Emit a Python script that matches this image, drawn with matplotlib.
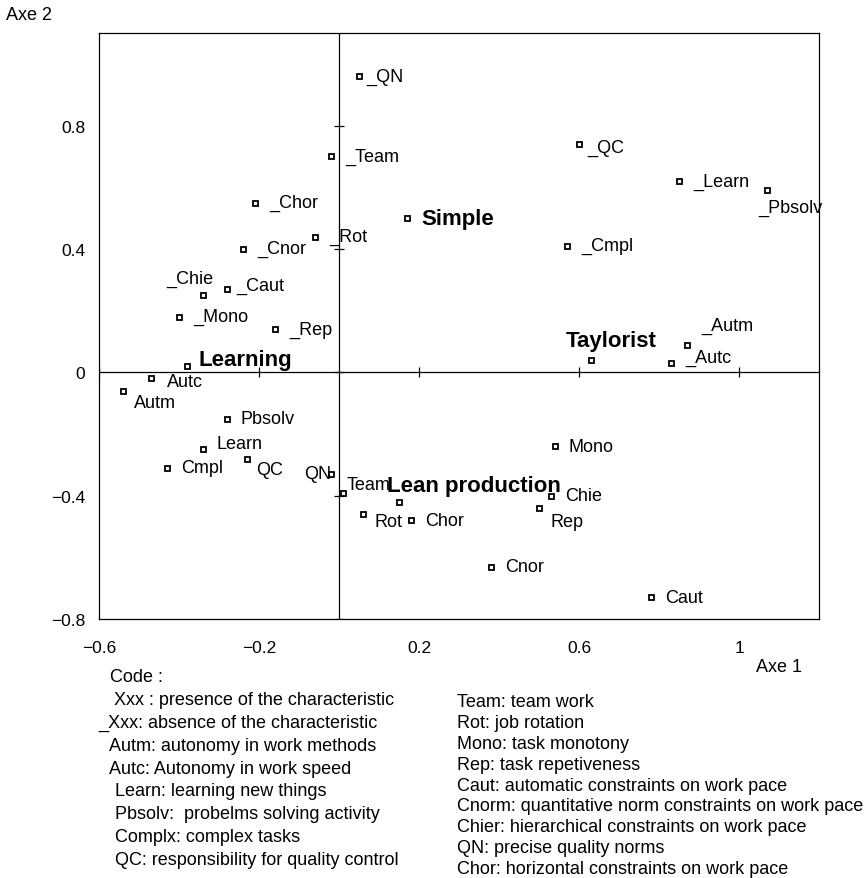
import numpy as np
import matplotlib
matplotlib.use("Agg")
import matplotlib.pyplot as plt

plt.rcParams['font.family'] = ['Liberation Sans', 'DejaVu Sans']

# coordonnées des modalités (axes 1 et 2)
labels = ["_QN", "_Team", "_Chor", "_Rot", "_Cnor", "_Chie", "_Caut", "_Mono", "_Rep",
          "_QC", "_Learn", "_Pbsolv", "_Cmpl", "_Autm", "_Autc",
          "Autc", "Autm", "Pbsolv", "Learn", "Cmpl", "QC", "QN", "Team", "Rot", "Chor",
          "Mono", "Chie", "Rep", "Cnor", "Caut"]
x_vals = [0.051, -0.02, -0.21, -0.06, -0.24, -0.34, -0.28, -0.40, -0.16,
          0.60, 0.85, 1.07, 0.57, 0.87, 0.83,
          -0.47, -0.54, -0.28, -0.34, -0.43, -0.23, -0.02, 0.01, 0.06, 0.18,
          0.54, 0.53, 0.50, 0.38, 0.78]
y_vals = [0.96, 0.70, 0.55, 0.44, 0.40, 0.25, 0.27, 0.18, 0.14,
          0.74, 0.62, 0.59, 0.41, 0.09, 0.03,
          -0.02, -0.06, -0.15, -0.25, -0.31, -0.28, -0.33, -0.39, -0.46, -0.48,
          -0.24, -0.40, -0.44, -0.63, -0.73]

# classes (en gras)
groups = ["Learning", "Simple", "Taylorist", "Lean production"]
gx = [-0.38, 0.17, 0.63, 0.15]
gy = [0.02, 0.50, 0.04, -0.42]

xticks = [-0.6, -0.2, 0.2, 0.6, 1]
xtick_labels = ["\u22120.6", "\u22120.2", "0.2", "0.6", "1"]
yticks = [-0.8, -0.4, 0, 0.4, 0.8]
ytick_labels = ["\u22120.8", "\u22120.4", "0", "0.4", "0.8"]

legend_left = ["Code :", " Xxx : presence of the characteristic", "_Xxx: absence of the characteristic",
               "Autm: autonomy in work methods", "Autc: Autonomy in work speed",
               "Learn: learning new things", "Pbsolv:  probelms solving activity",
               "Complx: complex tasks", "QC: responsibility for quality control"]
legend_right = ["Team: team work", "Rot: job rotation", "Mono: task monotony", "Rep: task repetiveness",
                "Caut: automatic constraints on work pace", "Cnorm: quantitative norm constraints on work pace",
                "Chier: hierarchical constraints on work pace", "QN: precise quality norms",
                "Chor: horizontal constraints on work pace"]

# décalages des étiquettes (pixels)
offsets = {"_QN": (7, 0), "_Chie": (-37, 17), "_Caut": (9, 4), "_QC": (8, -3),
           "_Pbsolv": (-9, -17), "_Autm": (14, 19), "_Autc": (14, 6),
           "Autc": (16, -3), "Autm": (11, -12), "Learn": (14, 6), "QC": (9, -11),
           "QN": (-27, 1), "Team": (4, 8), "Rot": (11, -7), "Rep": (12, -14)}
group_offsets = {"Learning": (12, 7), "Simple": (14, 0), "Taylorist": (-25, 19),
                 "Lean production": (-12, 16)}

W, H = 866, 879
fig = plt.figure(figsize=(W / 100, H / 100), dpi=100)
ax = fig.add_axes([99 / W, 1 - 620 / H, 720 / W, 586 / H])
ax.set_xlim(-0.6, 1.2)
ax.set_ylim(-0.8, 1.1)

ax.axhline(0, color='black', lw=0.9, zorder=1)
ax.axvline(0, color='black', lw=0.9, zorder=1)
# petites graduations sur les axes centraux
ax.plot(np.zeros(len(yticks)), yticks, marker='_', ms=7.5, mew=0.9, ls='none', color='black', zorder=1)
ax.plot(xticks, np.zeros(len(xticks)), marker='|', ms=7.5, mew=0.9, ls='none', color='black', zorder=1)

ax.plot(x_vals + gx, y_vals + gy, ls='none', marker='s', ms=3.6, mfc='white', mec='black', mew=1.3, zorder=3)

for lab, x, y in zip(labels, x_vals, y_vals):
    dx, dy = offsets.get(lab, (14, 0))
    t = ax.annotate(lab, (x, y), xytext=(dx, dy), textcoords='offset pixels',
                    ha='left', va='center', fontsize=13, zorder=4)
    t.set_clip_on(True)

for lab, x, y in zip(groups, gx, gy):
    dx, dy = group_offsets[lab]
    ax.annotate(lab, (x, y), xytext=(dx, dy), textcoords='offset pixels',
                ha='left', va='center', fontsize=16, fontweight='bold', zorder=5)

ax.set_xticks(xticks)
ax.set_xticklabels(xtick_labels)
ax.set_yticks(yticks)
ax.set_yticklabels(ytick_labels)
ax.tick_params(axis='x', length=0, pad=15, labelsize=12.5)
ax.tick_params(axis='y', length=0, pad=10, labelsize=12.5)
for sp in ax.spines.values():
    sp.set_linewidth(0.9)

fig.text(6 / W, 1 - 15 / H, "Axe 2", fontsize=13, ha='left', va='center')
fig.text(756 / W, 1 - 668 / H, "Axe 1", fontsize=13, ha='left', va='center')

for i, line in enumerate(legend_left):
    xl = 110 if i == 0 else (98 if line.startswith("_") else (109 if i < 5 else 115))
    fig.text(xl / W, 1 - (678 + 22.8 * i) / H, line, fontsize=13, ha='left', va='center')
for i, line in enumerate(legend_right):
    fig.text(457 / W, 1 - (703 + 20.8 * i) / H, line, fontsize=13, ha='left', va='center')

fig.savefig("out.png", dpi=100)
